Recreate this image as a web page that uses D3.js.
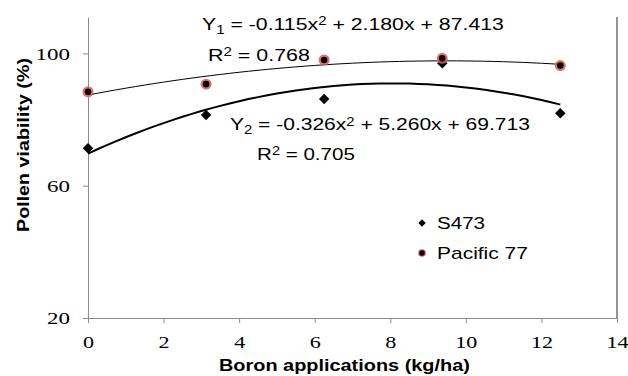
<!DOCTYPE html>
<html>
<head>
<meta charset="utf-8">
<script src="https://cdn.jsdelivr.net/npm/d3@7"></script>
<style>
  body { margin: 0; background: #fff; }
  svg { display: block; }
  .eq { font-family: "Liberation Sans", Arial, sans-serif; font-size: 17px; fill: #000; }
  .axis-title { font-family: "Liberation Sans", Arial, sans-serif; font-size: 16px; font-weight: bold; }
  svg .tick text { font-family: 'Liberation Serif', 'Times New Roman', Times, 'DejaVu Serif', serif !important; font-size: 17px; }
</style>
</head>
<body>
<div id="chart"></div>
<script>
  // Datos
  const boronDoses = [0, 3.125, 6.25, 9.375, 12.5];
  const s473 = [71.3, 81.4, 86.2, 97.0, 81.9];
  const pacific77 = [88.4, 90.7, 98.0, 98.5, 96.3];

  // coeficientes de las curvas (a x^2 + b x + c)
  const coefY1 = [-0.115, 2.180, 87.413];
  const coefY2 = [-0.326, 5.260, 69.713];

  const xTicks = [0, 2, 4, 6, 8, 10, 12, 14];
  const yTicks = [20, 60, 100];

  const width = 628, height = 376;
  const margin = { left: 88, right: 11, top: 17, bottom: 58 };

  const svg = d3.select('#chart').append('svg')
    .attr('width', width).attr('height', height);

  const x = d3.scaleLinear().domain([0, 14]).range([margin.left, width - margin.right]);
  const y = d3.scaleLinear().domain([20, 111]).range([height - margin.bottom, margin.top]);

  // estira el texto en horizontal hasta el ancho deseado (la figura original está estirada)
  function stretch(sel, targetW, px, py, rot) {
    sel.attr('x', 0).attr('y', 0);
    const w = sel.node().getComputedTextLength();
    const sx = targetW / w;
    sel.attr('transform', `translate(${px},${py})${rot ? ` rotate(${rot})` : ''} scale(${sx},1)`);
    return sel;
  }

  // ejes
  const xAxis = svg.append('g')
    .attr('transform', `translate(0,${y(20)})`)
    .call(d3.axisBottom(x).tickValues(xTicks).tickSize(5).tickPadding(13).tickSizeOuter(0));
  const yAxis = svg.append('g')
    .attr('transform', `translate(${x(0)},0)`)
    .call(d3.axisLeft(y).tickValues(yTicks).tickSize(5).tickPadding(13).tickSizeOuter(0));
  [xAxis, yAxis].forEach((g) => {
    g.attr('font-family', null).attr('font-size', null);
    g.select('.domain').attr('stroke', '#8c8c8c');
    g.selectAll('.tick line').attr('stroke', '#8c8c8c');
    g.selectAll('.tick text').attr('fill', '#000');
  });
  yAxis.selectAll('.tick text').attr('dy', '0.35em');
  // etiquetas de marcas algo más anchas
  xAxis.selectAll('.tick text').attr('transform', 'scale(1.3,1)');
  yAxis.selectAll('.tick text').each(function () {
    const t = d3.select(this);
    const xx = +t.attr('x');
    t.attr('transform', `translate(${xx},0) scale(1.35,1)`).attr('x', 0);
  });

  // borde derecho
  svg.append('line')
    .attr('x1', x(14)).attr('x2', x(14))
    .attr('y1', y(111)).attr('y2', y(20))
    .attr('stroke', '#707070').attr('stroke-width', 1.5);

  // curvas de tendencia
  const quad = (c) => (v) => c[0] * v * v + c[1] * v + c[2];
  const xs = d3.range(0, 12.5001, 0.25);
  const line = d3.line().x((d) => x(d[0])).y((d) => y(d[1])).curve(d3.curveMonotoneX);

  svg.append('path')
    .datum(xs.map((v) => [v, quad(coefY1)(v)]))
    .attr('d', line).attr('fill', 'none').attr('stroke', '#000').attr('stroke-width', 1);
  svg.append('path')
    .datum(xs.map((v) => [v, quad(coefY2)(v)]))
    .attr('d', line).attr('fill', 'none').attr('stroke', '#000').attr('stroke-width', 2);

  // marcadores S473 (rombos)
  const diamond = d3.symbol().type(d3.symbolDiamond2).size(70);
  svg.append('g').selectAll('path')
    .data(boronDoses.map((d, i) => [d, s473[i]]))
    .join('path')
    .attr('transform', (d) => `translate(${x(d[0])},${y(d[1])})`)
    .attr('d', diamond).attr('fill', '#000');

  // marcadores Pacific 77 (círculos)
  const pac = svg.append('g').selectAll('g')
    .data(boronDoses.map((d, i) => [d, pacific77[i]]))
    .join('g')
    .attr('transform', (d) => `translate(${x(d[0])},${y(d[1])})`);
  pac.append('circle').attr('r', 5.5).attr('fill', '#d9585a').attr('opacity', 0.85);
  pac.append('circle').attr('r', 3.3).attr('fill', '#000');

  // ecuaciones
  function eqText(px, py, w, parts) {
    const t = svg.append('text').attr('class', 'eq');
    parts.forEach((p) => {
      const s = t.append('tspan').text(p.t);
      if (p.sub) s.attr('baseline-shift', '-30%').attr('font-size', '12px');
      if (p.sup) s.attr('baseline-shift', '40%').attr('font-size', '12px');
    });
    stretch(t, w, px, py);
  }
  eqText(202, 30, 302, [{ t: 'Y' }, { t: '1', sub: true }, { t: ' = -0.115x' }, { t: '2', sup: true }, { t: ' + 2.180x + 87.413' }]);
  eqText(208, 61, 102, [{ t: 'R' }, { t: '2', sup: true }, { t: ' = 0.768' }]);
  eqText(230, 130, 300, [{ t: 'Y' }, { t: '2', sub: true }, { t: ' = -0.326x' }, { t: '2', sup: true }, { t: ' + 5.260x + 69.713' }]);
  eqText(257, 160, 98, [{ t: 'R' }, { t: '2', sup: true }, { t: ' = 0.705' }]);

  // leyenda
  const legend = svg.append('g');
  legend.append('path').attr('transform', 'translate(422,223)')
    .attr('d', d3.symbol().type(d3.symbolDiamond2).size(34)).attr('fill', '#000');
  stretch(legend.append('text').attr('class', 'eq').text('S473'), 48, 437, 229);
  const lg = legend.append('g').attr('transform', 'translate(422,253)');
  lg.append('circle').attr('r', 3.8).attr('fill', '#d9585a');
  lg.append('circle').attr('r', 2.7).attr('fill', '#000');
  stretch(legend.append('text').attr('class', 'eq').text('Pacific 77'), 91, 437, 259);

  // títulos de ejes
  stretch(svg.append('text').attr('class', 'axis-title').text('Boron applications (kg/ha)'),
    251, 219, 371);
  const yt = svg.append('text').attr('class', 'axis-title').text('Pollen viability (%)');
  stretch(yt, 174, 29, 232, -90);
</script>
</body>
</html>
